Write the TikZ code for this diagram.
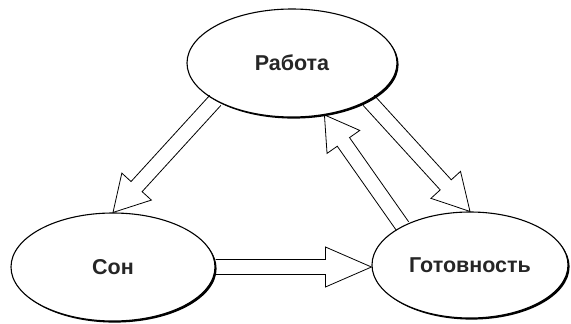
\documentclass[tikz,border=0pt]{standalone}
\usepackage{fontspec}
\setmainfont{Liberation Sans}
\usepackage{tikz}
\usetikzlibrary{calc}
\usetikzlibrary{shapes.geometric}
\usetikzlibrary{shadows}

% hollow block arrow: from, to, head length
\newcommand{\hollowarrow}[3]{%
	\path (#1) coordinate (ha) (#2) coordinate (hb);
	\path ($(hb)!#3!(ha)$) coordinate (hc);
	\draw[harrow] ($(ha)!7.5pt!90:(hb)$) -- ($(hc)!7.5pt!-90:(ha)$) -- ($(hc)!20pt!-90:(ha)$) -- (hb)
		-- ($(hc)!20pt!90:(ha)$) -- ($(hc)!7.5pt!90:(ha)$) -- ($(ha)!7.5pt!-90:(hb)$);
}

\begin{document}
\begin{tikzpicture}[x=1pt,y=-1pt]
		\tikzstyle{state} = [draw, ellipse, line width=1.1pt, fill=white, inner sep=0pt, text=black!85,
			font=\fontsize{21.5}{25}\selectfont\bfseries,
			drop shadow={shadow xshift=1.6pt, shadow yshift=-1.6pt, fill=black, opacity=1}]
		\tikzstyle{harrow} = [draw, line width=0.8pt, line join=miter]
		\useasboundingbox (0,0) rectangle (571,324);
		\node [state, minimum width=210pt, minimum height=108pt] (rab) at (292,63) {Работа};
		\node [state, minimum width=204pt, minimum height=108pt] (son) at (113,267) {Сон};
		\node [state, minimum width=196pt, minimum height=106pt] (got) at (470,265) {Готовность};
		%\node [state] (rest) at (292,200) {Отдых};

		\hollowarrow{rab.206}{son.north}{35pt}
		\hollowarrow{rab.334}{got.north}{36pt}
		\hollowarrow{got.150}{rab.302}{33pt}
		\hollowarrow{son.east}{son.east -| got.west}{46pt}
	\end{tikzpicture}
\end{document}
